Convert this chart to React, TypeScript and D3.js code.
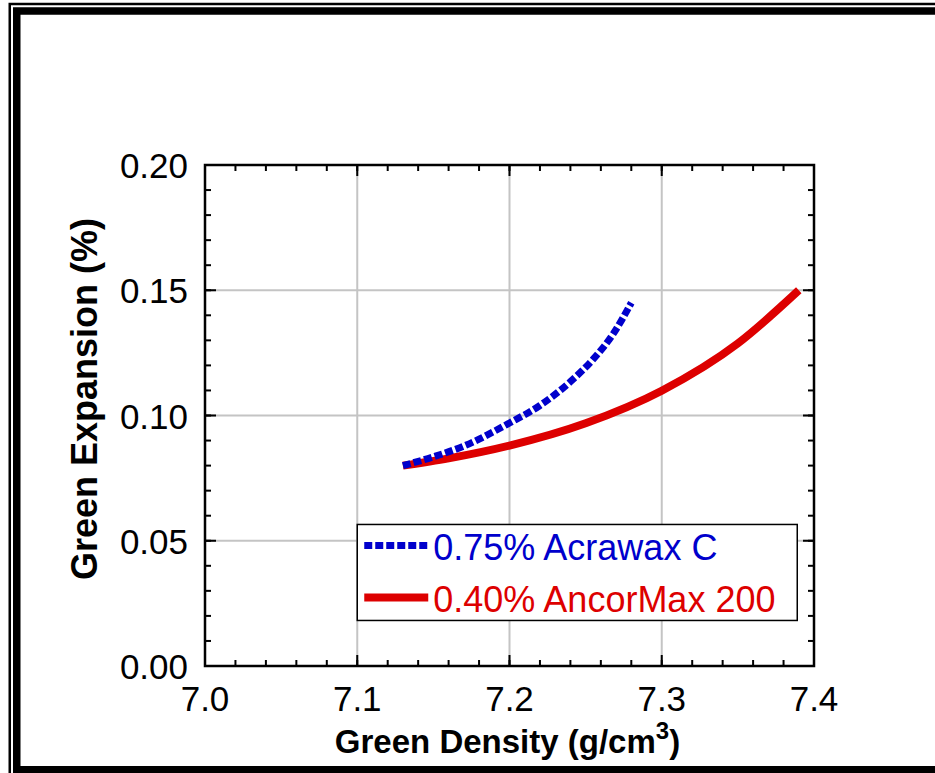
import * as d3 from 'd3';
import React from 'react';

const WIDTH = 935;
const HEIGHT = 773;
const MARGIN = { top: 165, right: 121, bottom: 107, left: 205 };

const xTicks = [7.0, 7.1, 7.2, 7.3, 7.4];
const yTicks = [0.0, 0.05, 0.1, 0.15, 0.2];

// 0.75% Acrawax C (blue, dashed)
const acrawaxX = [7.13, 7.15, 7.17, 7.2, 7.22, 7.24, 7.255, 7.268, 7.28];
const acrawaxY = [0.08, 0.0835, 0.0878, 0.097, 0.104, 0.1135, 0.1225, 0.1325, 0.145];

// 0.40% AncorMax 200 (red, solid)
const ancorX = [7.13, 7.16, 7.2, 7.25, 7.3, 7.35, 7.39];
const ancorY = [0.08, 0.0829, 0.088, 0.0969, 0.1099, 0.1288, 0.15];

const seriesNames = ['0.75% Acrawax C', '0.40% AncorMax 200'];
const FONT = 'Liberation Sans, Arial, sans-serif';

export default function App() {
  const boundsWidth = WIDTH - MARGIN.left - MARGIN.right;
  const boundsHeight = HEIGHT - MARGIN.top - MARGIN.bottom;

  const xScale = d3.scaleLinear().domain([7.0, 7.4]).range([0, boundsWidth]);
  const yScale = d3.scaleLinear().domain([0, 0.2]).range([boundsHeight, 0]);

  const line = d3
    .line<[number, number]>()
    .x(d => xScale(d[0]))
    .y(d => yScale(d[1]))
    .curve(d3.curveMonotoneX);

  const acrawax = acrawaxX.map((x, i) => [x, acrawaxY[i]] as [number, number]);
  const ancor = ancorX.map((x, i) => [x, ancorY[i]] as [number, number]);

  const xMinor = d3.range(7.0, 7.4001, 0.02);
  const yMinor = d3.range(0, 0.2001, 0.01);

  return (
    <svg
      width={WIDTH}
      height={HEIGHT}
      style={{ position: 'absolute', left: 0, top: 0, background: 'white' }}
    >
      {/* double frame, cropped on the right and bottom */}
      <rect x={9.75} y={4} width={1000} height={1000} fill="none" stroke="black" strokeWidth={2.5} />
      <rect x={16.75} y={11} width={1000} height={758.75} fill="none" stroke="black" strokeWidth={7.5} />

      <g transform={`translate(${MARGIN.left},${MARGIN.top})`}>
        {/* grid */}
        {xTicks.slice(1, -1).map(t => (
          <line key={'gx' + t} x1={xScale(t)} x2={xScale(t)} y1={0} y2={boundsHeight} stroke="#c4c4c4" strokeWidth={2} />
        ))}
        {yTicks.slice(1, -1).map(t => (
          <line key={'gy' + t} x1={0} x2={boundsWidth} y1={yScale(t)} y2={yScale(t)} stroke="#c4c4c4" strokeWidth={2} />
        ))}

        {/* minor ticks */}
        {xMinor.map((t, i) => (
          <g key={'mx' + i}>
            <line x1={xScale(t)} x2={xScale(t)} y1={boundsHeight} y2={boundsHeight - 6} stroke="black" strokeWidth={2} />
            <line x1={xScale(t)} x2={xScale(t)} y1={0} y2={6} stroke="black" strokeWidth={2} />
          </g>
        ))}
        {yMinor.map((t, i) => (
          <g key={'my' + i}>
            <line x1={0} x2={6} y1={yScale(t)} y2={yScale(t)} stroke="black" strokeWidth={2} />
            <line x1={boundsWidth} x2={boundsWidth - 6} y1={yScale(t)} y2={yScale(t)} stroke="black" strokeWidth={2} />
          </g>
        ))}
        {/* major ticks */}
        {xTicks.map(t => (
          <g key={'Mx' + t}>
            <line x1={xScale(t)} x2={xScale(t)} y1={boundsHeight} y2={boundsHeight - 11} stroke="black" strokeWidth={2} />
            <line x1={xScale(t)} x2={xScale(t)} y1={0} y2={11} stroke="black" strokeWidth={2} />
          </g>
        ))}
        {yTicks.map(t => (
          <g key={'My' + t}>
            <line x1={0} x2={11} y1={yScale(t)} y2={yScale(t)} stroke="black" strokeWidth={2} />
            <line x1={boundsWidth} x2={boundsWidth - 11} y1={yScale(t)} y2={yScale(t)} stroke="black" strokeWidth={2} />
          </g>
        ))}

        {/* data */}
        <path d={line(ancor) ?? ''} fill="none" stroke="#dd0000" strokeWidth={8} />
        <path d={line(acrawax) ?? ''} fill="none" stroke="#0000cc" strokeWidth={7} strokeDasharray="8 3" />

        {/* axes box */}
        <rect x={0} y={0} width={boundsWidth} height={boundsHeight} fill="none" stroke="black" strokeWidth={2.5} />

        {/* tick labels */}
        {xTicks.map(t => (
          <text key={'lx' + t} x={xScale(t)} y={boundsHeight + 45} textAnchor="middle" fontFamily={FONT} fontSize={35}>
            {t.toFixed(1)}
          </text>
        ))}
        {yTicks.map(t => (
          <text key={'ly' + t} x={-17} y={yScale(t) + 13} textAnchor="end" fontFamily={FONT} fontSize={35}>
            {t.toFixed(2)}
          </text>
        ))}

        {/* legend */}
        <g transform={`translate(${xScale(7.1) - 152},${yScale(0.0565)})`}>
          <rect x={152} y={0} width={440} height={96} fill="white" stroke="black" strokeWidth={1.5} />
          <line x1={159} x2={223} y1={21} y2={21} stroke="#0000cc" strokeWidth={7} strokeDasharray="8 3" />
          <text x={228} y={36} fontFamily={FONT} fontSize={36} fill="#0000cc">{seriesNames[0]}</text>
          <line x1={159} x2={223} y1={73} y2={73} stroke="#dd0000" strokeWidth={8} />
          <text x={228} y={88} fontFamily={FONT} fontSize={36} fill="#dd0000">{seriesNames[1]}</text>
        </g>
      </g>

      {/* axis titles */}
      <text
        x={MARGIN.left + boundsWidth / 2 - 2}
        y={753}
        textAnchor="middle"
        fontFamily={FONT}
        fontSize={33}
        fontWeight="bold"
      >
        Green Density (g/cm<tspan dy={-14} fontSize={24}>3</tspan><tspan dy={14}>)</tspan>
      </text>
      <text
        transform={`translate(97,399) rotate(-90)`}
        textAnchor="middle"
        fontFamily={FONT}
        fontSize={36}
        fontWeight="bold"
      >
        Green Expansion (%)
      </text>
    </svg>
  );
}
